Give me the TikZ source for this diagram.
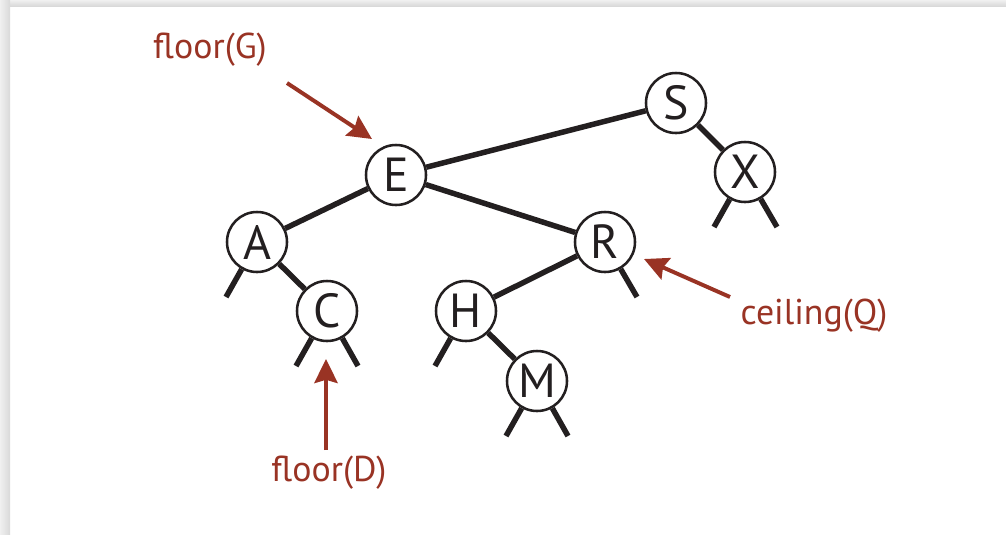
\documentclass[tikz,border=0pt]{standalone}
\usepackage{fontspec}
\setmainfont{PT Sans}
\usepackage{tikz}
\usetikzlibrary{arrows.meta}
\definecolor{ink}{RGB}{35,31,32}
\definecolor{bookred}{RGB}{153,51,36}

\begin{document}
\begin{tikzpicture}[x=0.025cm,y=-0.025cm,
  key/.style = {draw=ink, circle, line width=1.8pt, fill=white, minimum size=1.5cm, inner sep=0pt, text=ink, font=\fontsize{34}{34}\selectfont},
  link/.style = {ink, line width=3.9pt},
  note/.style = {text=bookred, font=\fontsize{25.5}{25.5}\selectfont},
  pointer/.style = {draw=bookred, line width=2.8pt, -{Stealth[length=0.6cm, width=0.58cm, inset=0.08cm]}}]
\useasboundingbox (0,0) rectangle (1006,534);
\fill[white] (0,0) rectangle (1006,534);
\shade[top color=gray!12, bottom color=gray!30] (0,0) rectangle (1006,6);
\shade[left color=gray!12, right color=gray!30] (0,0) rectangle (10,534);

\node[key] (S) at (676,103) {S};
\node[key] (E) at (396,175) {E};
\node[key] (X) at (745,172) {X};
\node[key] (A) at (257,242) {A};
\node[key] (R) at (605,242) {R};
\node[key] (C) at (327,311) {C};
\node[key] (H) at (466,311) {H};
\node[key] (M) at (537,381) {M};

\draw[link] (E) -- (S);
\draw[link] (E) -- (A);
\draw[link] (E) -- (R);
\draw[link] (S) -- (X);
\draw[link] (A) -- (C);
\draw[link] (R) -- (H);
\draw[link] (H) -- (M);

% null links
\draw[link] (A) -- ++(-31,55);
\draw[link] (C) -- ++(-31,55);
\draw[link] (C) -- ++(31,55);
\draw[link] (H) -- ++(-31,55);
\draw[link] (M) -- ++(-31,55);
\draw[link] (M) -- ++(31,55);
\draw[link] (R) -- ++(32,55);
\draw[link] (X) -- ++(-31,55);
\draw[link] (X) -- ++(32,55);

\node[note] (floorG) at (210,50) {floor(G)};
\node[note] (ceilQ) at (814,316) {ceiling(Q)};
\node[note] (floorD) at (329,473) {floor(D)};
\coordinate (gtail) at (287,83);
\coordinate (ghead) at (372,139);
\coordinate (qtail) at (730,297);
\coordinate (qhead) at (644,259);
\coordinate (dtail) at (326,450);
\coordinate (dhead) at (326,359);
\draw[pointer] (gtail) -- (ghead);
\draw[pointer] (qtail) -- (qhead);
\draw[pointer] (dtail) -- (dhead);
\end{tikzpicture}
\end{document}
